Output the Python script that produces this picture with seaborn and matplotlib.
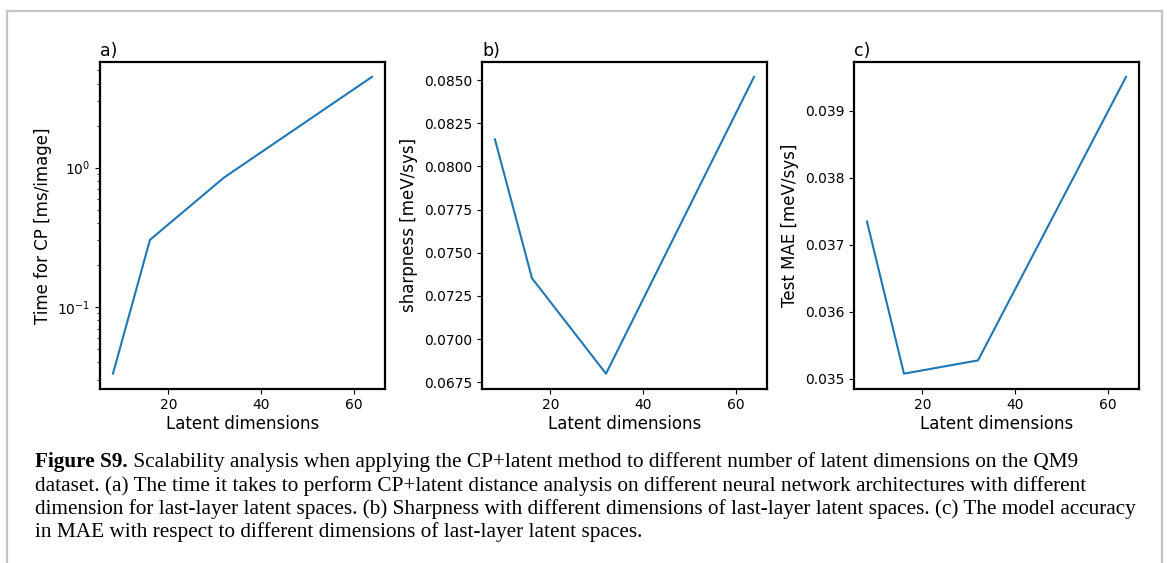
import matplotlib
matplotlib.use("Agg")
import matplotlib.pyplot as plt
import seaborn as sns
import pandas as pd
from matplotlib.patches import Rectangle

plt.rcParams["font.family"] = ["DejaVu Sans"]

# ---- data ----
latent_dims = [8, 16, 32, 64]
time_cp = [0.0332, 0.303, 0.848, 4.48]          # ms/image
sharpness = [0.08157, 0.07353, 0.0680, 0.08519]  # meV/sys
test_mae = [0.03735, 0.035075, 0.035273, 0.03951]  # meV/sys

panel_titles = ["a)", "b)", "c)"]
y_labels = ["Time for CP [ms/image]", "sharpness [meV/sys]", "Test MAE [meV/sys]"]
x_label = "Latent dimensions"

caption_bold = "Figure S9."
caption_lines = [
    " Scalability analysis when applying the CP+latent method to different number of latent dimensions on the QM9",
    "dataset. (a) The time it takes to perform CP+latent distance analysis on different neural network architectures with different",
    "dimension for last-layer latent spaces. (b) Sharpness with different dimensions of last-layer latent spaces. (c) The model accuracy",
    "in MAE with respect to different dimensions of last-layer latent spaces.",
]

W, H = 1167, 563
fig = plt.figure(figsize=(W / 100, H / 100), dpi=100)
fig.patch.set_facecolor("white")

# light gray frame around the figure (bottom edge runs off the page)
fig.add_artist(Rectangle((7 / W, -0.2), (1162 - 7) / W, 1.2 - 11 / H,
                         transform=fig.transFigure, fill=False,
                         edgecolor="#c4c4c4", linewidth=1.6, clip_on=False))

lefts = [100, 482, 854]
ax_w = 285
ax_top, ax_bottom = 62, 388.5
series = [time_cp, sharpness, test_mae]

for i, (left, vals) in enumerate(zip(lefts, series)):
    ax = fig.add_axes([left / W, (H - ax_bottom) / H, ax_w / W, (ax_bottom - ax_top) / H])
    df = pd.DataFrame({"dim": latent_dims, "val": vals})
    sns.lineplot(data=df, x="dim", y="val", ax=ax, color="#1f77b4", linewidth=1.5)
    if i == 0:
        ax.set_yscale("log")
    ax.set_xticks([20, 40, 60])
    ax.set_xlabel(x_label, fontsize=12, labelpad=2)
    ax.set_ylabel(y_labels[i], fontsize=12)
    ax.set_title(panel_titles[i], loc="left", fontsize=12.5, pad=4)
    ax.tick_params(labelsize=10)
    for sp in ax.spines.values():
        sp.set_linewidth(1.6)
        sp.set_color("black")
    if i == 1:
        ax.set_yticks([0.0675, 0.0700, 0.0725, 0.0750, 0.0775, 0.0800, 0.0825, 0.0850])
        ax.yaxis.set_major_formatter(matplotlib.ticker.FormatStrFormatter("%.4f"))
    if i == 2:
        ax.set_yticks([0.035, 0.036, 0.037, 0.038, 0.039])
        ax.yaxis.set_major_formatter(matplotlib.ticker.FormatStrFormatter("%.3f"))

# caption
cap_size = 15.3
x0 = 35 / W
baselines = [467, 490.5, 514, 537]
fig.canvas.draw()
renderer = fig.canvas.get_renderer()
tb = fig.text(x0, (H - baselines[0]) / H, caption_bold, fontsize=cap_size,
              family="Liberation Serif", weight="bold", va="baseline", ha="left")
bb = tb.get_window_extent(renderer=renderer)
fig.text(bb.x1 / W, (H - baselines[0]) / H, caption_lines[0], fontsize=cap_size,
         family="Liberation Serif", va="baseline", ha="left")
for line, yb in zip(caption_lines[1:], baselines[1:]):
    fig.text(x0, (H - yb) / H, line, fontsize=cap_size, family="Liberation Serif",
             va="baseline", ha="left")

fig.savefig("out.png", dpi=100, facecolor="white")
